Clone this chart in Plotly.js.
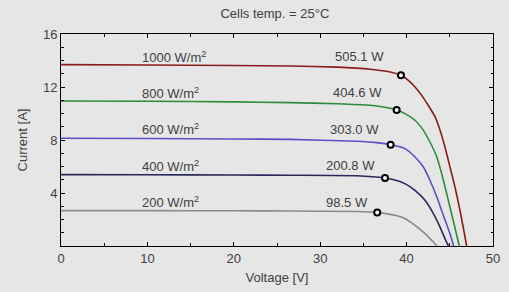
<!DOCTYPE html>
<html>
<head>
<meta charset="utf-8">
<script src="https://cdn.plot.ly/plotly-3.0.1.min.js"></script>
<style>html,body{margin:0;padding:0;background:#e6e6e6;}#chart{width:509px;height:292px;}</style>
</head>
<body>
<div id="chart"></div>
<script>
// Irradiance levels and series
const irradiance = ['1000 W/m<sup>2</sup>', '800 W/m<sup>2</sup>', '600 W/m<sup>2</sup>', '400 W/m<sup>2</sup>', '200 W/m<sup>2</sup>'];
const powerLabels = ['505.1 W', '404.6 W', '303.0 W', '200.8 W', '98.5 W'];

const volt1000 = [0, 10, 20, 26.5, 32, 35.8, 38.1, 39.35, 40.2, 40.97, 41.75, 42.5, 43.3, 43.87, 44.44, 45.02, 45.6, 46.18, 46.76, 46.95];
const curr1000 = [13.69, 13.66, 13.62, 13.58, 13.5, 13.34, 13.13, 12.88, 12.5, 12.0, 11.37, 10.62, 9.74, 8.73, 7.47, 5.96, 4.45, 2.69, 0.68, 0];

const volt800 = [0, 10, 20, 26.5, 32, 35.8, 37.3, 38.85, 39.8, 40.97, 41.94, 42.7, 43.5, 44.06, 44.64, 45.2, 45.85, 46.1];
const curr800 = [10.94, 10.92, 10.88, 10.82, 10.74, 10.62, 10.49, 10.26, 9.99, 9.49, 8.73, 7.85, 6.72, 5.46, 3.95, 2.45, 0.68, 0];

const volt600 = [0, 10, 20, 26.5, 34.2, 36.5, 38.15, 39.8, 40.97, 41.94, 42.7, 43.5, 44.25, 45.02, 45.45];
const curr600 = [8.13, 8.11, 8.08, 8.05, 7.9, 7.8, 7.65, 7.35, 6.72, 5.96, 4.96, 3.7, 2.32, 0.93, 0];

const volt400 = [0, 10, 20, 26.5, 34.2, 37.5, 38.66, 39.8, 40.97, 42.13, 43.1, 43.87, 44.44, 44.83];
const curr400 = [5.39, 5.38, 5.36, 5.34, 5.3, 5.13, 4.98, 4.71, 4.2, 3.45, 2.45, 1.43, 0.56, 0];

const volt200 = [0, 10, 20, 26.5, 34.2, 36.6, 38.66, 39.8, 40.97, 42.13, 43.1, 43.5];
const curr200 = [2.67, 2.67, 2.66, 2.64, 2.6, 2.52, 2.32, 2.07, 1.56, 0.94, 0.3, 0];

// Maximum power points
const mppV = [39.35, 38.85, 38.15, 37.5, 36.6];
const mppI = [12.88, 10.26, 7.65, 5.13, 2.52];

const voltSeries = [volt1000, volt800, volt600, volt400, volt200];
const currSeries = [curr1000, curr800, curr600, curr400, curr200];
const colors = ['#8b1c1c', '#2e8b3a', '#5a4fc4', '#28285e', '#8a8a8a'];

const traces = voltSeries.map((v, i) => ({
  x: v, y: currSeries[i], type: 'scatter', mode: 'lines',
  line: {color: colors[i], width: 1.6, shape: 'spline', smoothing: 0.5},
  hoverinfo: 'skip', showlegend: false
}));
traces.push({
  x: mppV, y: mppI, type: 'scatter', mode: 'markers',
  marker: {symbol: 'circle', size: 6, color: '#ffffff', line: {color: '#000000', width: 2}},
  showlegend: false
});

const labelY = [14.3, 11.58, 8.8, 6.07, 3.32];
const powerX = [31.5, 31.25, 30.9, 30.44, 30.44];
const annotations = [];
irradiance.forEach((t, i) => {
  annotations.push({x: 9.1, y: labelY[i], xref: 'x', yref: 'y', text: t, showarrow: false,
    xanchor: 'left', yanchor: 'middle', font: {size: 13, color: '#404040'}});
  annotations.push({x: powerX[i], y: labelY[i], xref: 'x', yref: 'y', text: powerLabels[i], showarrow: false,
    xanchor: 'left', yanchor: 'middle', font: {size: 13, color: '#404040'}});
});

const axisCommon = {
  showgrid: false, zeroline: false, showline: true, linecolor: '#000000', linewidth: 1,
  mirror: 'ticks', ticks: 'inside', ticklen: 4, tickcolor: '#000000', tickwidth: 1,
  tickfont: {size: 13, color: '#404040'}
};

const layout = {
  width: 509, height: 292,
  paper_bgcolor: '#e6e6e6', plot_bgcolor: '#e6e6e6',
  font: {family: 'Liberation Sans, Arial, sans-serif', size: 13, color: '#404040'},
  margin: {l: 61, r: 16, t: 34, b: 46},
  title: {text: 'Cells temp. = 25°C', x: 0.54, xanchor: 'center', y: 0.954, yanchor: 'middle',
    font: {size: 13, color: '#404040'}},
  xaxis: Object.assign({}, axisCommon, {
    range: [0, 50], dtick: 10, tick0: 0,
    minor: {dtick: 5, ticks: 'inside', ticklen: 3, tickcolor: '#000000'},
    title: {text: 'Voltage [V]', standoff: 8, font: {size: 13, color: '#404040'}}
  }),
  yaxis: Object.assign({}, axisCommon, {
    range: [0, 16], tickvals: [4, 8, 12, 16], ticktext: ['4', '8', '12', '16'],
    minor: {dtick: 1, tick0: 0, ticks: 'inside', ticklen: 2.5, tickcolor: '#000000'},
    title: {text: 'Current [A]', standoff: 12, font: {size: 13, color: '#404040'}}
  }),
  annotations: annotations
};

Plotly.newPlot('chart', traces, layout, {displayModeBar: false, staticPlot: true});
</script>
</body>
</html>
